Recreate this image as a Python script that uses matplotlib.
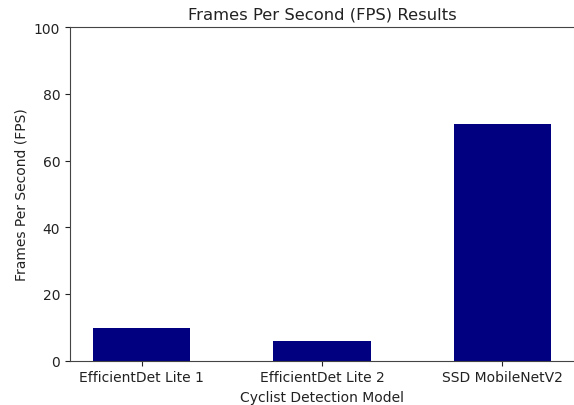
import matplotlib
matplotlib.use("Agg")
import matplotlib.pyplot as plt

models = ["EfficientDet Lite 1", "EfficientDet Lite 2", "SSD MobileNetV2"]
fps = [9.7, 5.8, 70.8]

fig = plt.figure(figsize=(5.74, 4.06), dpi=100)
ax = fig.add_axes([0.122, 0.109, 0.878, 0.822])

ax.bar(models, fps, width=0.54, color="navy")
ax.set_ylim(0, 100)

ax.set_title("Frames Per Second (FPS) Results", fontsize=11.8, color="#222222")
ax.set_xlabel("Cyclist Detection Model", fontsize=10, color="#222222")
ax.set_ylabel("Frames Per Second (FPS)", fontsize=10, color="#222222")
ax.tick_params(labelsize=10, colors="#222222")
for s in ax.spines.values():
    s.set_color("#444444")
# right edge is cut off in the original screenshot
ax.spines["right"].set_color("#e6e6e6")

fig.savefig("out.png", dpi=100)
